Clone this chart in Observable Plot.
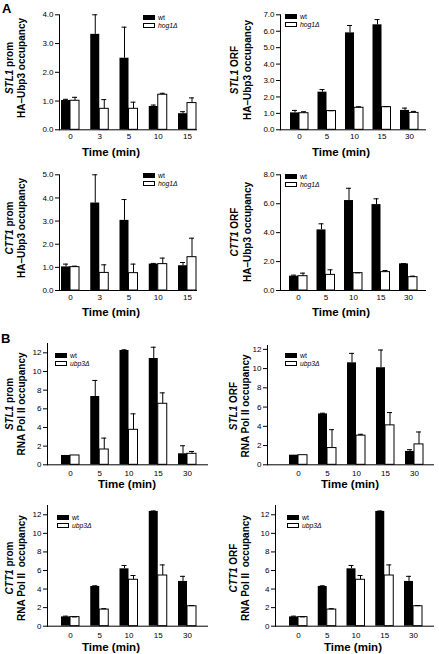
<!DOCTYPE html>
<html><head><meta charset="utf-8">
<script src="https://cdn.jsdelivr.net/npm/d3@7"></script>
<script src="https://cdn.jsdelivr.net/npm/@observablehq/plot@0.6"></script>
<style>
body{margin:0;background:#fff;}
#fig{position:relative;width:439px;height:654px;font-family:"Liberation Sans",Arial,sans-serif;color:#000;}
#fig svg{position:absolute;overflow:visible;}
.letter{position:absolute;font-weight:bold;font-size:13px;line-height:13px;}
</style></head><body><div id="fig"></div>
<script>
// ---- data ----
const timesA1 = ["0", "3", "5", "10", "15"];
const timesA2 = ["0", "5", "10", "15", "30"];
const timesB = ["0", "5", "10", "15", "30"];

// A: HA-Ubp3 occupancy (wt vs hog1Δ)
const stl1PromWt = [1.02, 3.32, 2.49, 0.81, 0.56];
const stl1PromWtErr = [0.04, 0.68, 1.08, 0.05, 0.07];
const stl1PromHog = [1.01, 0.73, 0.73, 1.22, 0.93];
const stl1PromHogErr = [0.12, 0.32, 0.23, 0.05, 0.18];

const stl1OrfWt = [1.03, 2.29, 5.90, 6.39, 1.18];
const stl1OrfWtErr = [0.15, 0.16, 0.45, 0.32, 0.14];
const stl1OrfHog = [1.01, 1.14, 1.34, 1.38, 1.03];
const stl1OrfHogErr = [0.09, 0.02, 0.06, 0.03, 0.09];

const ctt1PromWt = [1.02, 3.78, 3.03, 1.14, 1.07];
const ctt1PromWtErr = [0.12, 1.22, 0.90, 0.03, 0.14];
const ctt1PromHog = [1.01, 0.76, 0.75, 1.14, 1.44];
const ctt1PromHogErr = [0.04, 0.35, 0.39, 0.26, 0.82];

const ctt1OrfWt = [0.99, 4.19, 6.22, 5.94, 1.84];
const ctt1OrfWtErr = [0.07, 0.42, 0.85, 0.40, 0.02];
const ctt1OrfHog = [0.99, 1.08, 1.20, 1.27, 0.92];
const ctt1OrfHogErr = [0.21, 0.35, 0.02, 0.11, 0.07];

// B: RNA Pol II occupancy (wt vs ubp3Δ)
const polStl1PromWt = [1.0, 7.32, 12.25, 11.39, 1.18];
const polStl1PromWtErr = [0, 1.72, 0.07, 1.21, 0.86];
const polStl1PromUbp = [1.0, 1.64, 3.75, 6.54, 1.18];
const polStl1PromUbpErr = [0, 1.22, 1.71, 1.17, 0.25];

const polStl1OrfWt = [1.0, 5.29, 10.60, 10.09, 1.39];
const polStl1OrfWtErr = [0, 0.07, 0.98, 1.84, 0.18];
const polStl1OrfUbp = [1.0, 1.74, 3.03, 4.10, 2.12];
const polStl1OrfUbpErr = [0, 1.91, 0.14, 1.33, 1.29];

const polCtt1PromWt = [1.0, 4.28, 6.18, 12.36, 4.82];
const polCtt1PromWtErr = [0.08, 0.07, 0.36, 0.05, 0.55];
const polCtt1PromUbp = [0.98, 1.79, 5.00, 5.46, 2.15];
const polCtt1PromUbpErr = [0.02, 0.10, 0.46, 1.14, 0.07];

const polCtt1OrfWt = [1.0, 4.28, 6.18, 12.36, 4.82];
const polCtt1OrfWtErr = [0.08, 0.07, 0.36, 0.05, 0.55];
const polCtt1OrfUbp = [0.98, 1.79, 5.00, 5.46, 2.15];
const polCtt1OrfUbpErr = [0.02, 0.10, 0.46, 1.14, 0.07];

const ticksA1 = [0, 1, 2, 3, 4];
const ticksA2 = [0, 1, 2, 3, 4, 5, 6, 7];
const ticksA3 = [0, 1, 2, 3, 4, 5];
const ticksA4 = [0, 2, 4, 6, 8];
const ticksB = [0, 2, 4, 6, 8, 10, 12];

// ---- layout ----
const panels = [
  {box:[0,0,220,160], frame:[59,196,14.3,129.3], ymax:4, ticks:ticksA1, fmt:".1f", times:timesA1, c:[70,187],
   a:stl1PromWt, ae:stl1PromWtErr, b:stl1PromHog, be:stl1PromHogErr, gene:"STL1", region:" prom", line2:"HA\u2013Ubp3 occupancy",
   lab:[9,21,68], mut:"hog1\u0394", leg:[143,15], time:[111,152]},
  {box:[220,0,219,160], frame:[280,425,14.3,129.3], ymax:7, ticks:ticksA2, fmt:".1f", times:timesA2, c:[299,409],
   a:stl1OrfWt, ae:stl1OrfWtErr, b:stl1OrfHog, be:stl1OrfHogErr, gene:"STL1", region:" ORF", line2:"HA\u2013Ubp3 occupancy",
   lab:[234,247,70], mut:"hog1\u0394", leg:[285,14], time:[341,152]},
  {box:[0,160,220,160], frame:[59,196,174.3,290], ymax:5, ticks:ticksA3, fmt:".1f", times:timesA1, c:[70,187],
   a:ctt1PromWt, ae:ctt1PromWtErr, b:ctt1PromHog, be:ctt1PromHogErr, gene:"CTT1", region:" prom", line2:"HA\u2013Ubp3 occupancy",
   lab:[9,21,228], mut:"hog1\u0394", leg:[143,173], time:[111,312]},
  {box:[220,160,219,160], frame:[280,425,174.3,290], ymax:8, ticks:ticksA4, fmt:".1f", times:timesA2, c:[298,408],
   a:ctt1OrfWt, ae:ctt1OrfWtErr, b:ctt1OrfHog, be:ctt1OrfHogErr, gene:"CTT1", region:" ORF", line2:"HA\u2013Ubp3 occupancy",
   lab:[234,247,232], mut:"hog1\u0394", leg:[285,174], time:[341,312]},
  {box:[0,320,220,170], frame:[47,207,343,464.3], ymax:13, ticks:ticksB, fmt:"d", times:timesB, c:[70,187],
   a:polStl1PromWt, ae:polStl1PromWtErr, b:polStl1PromUbp, be:polStl1PromUbpErr, gene:"STL1", region:" prom", line2:"RNA Pol II occupancy",
   lab:[9,21,404], mut:"ubp3\u0394", leg:[55,353], time:[127,484]},
  {box:[220,320,219,170], frame:[267,433,345,464.3], ymax:12.4, ticks:ticksB, fmt:"d", times:timesB, c:[298,414],
   a:polStl1OrfWt, ae:polStl1OrfWtErr, b:polStl1OrfUbp, be:polStl1OrfUbpErr, gene:"STL1", region:" ORF", line2:"RNA Pol II occupancy",
   lab:[233,245,406], mut:"ubp3\u0394", leg:[285,353], time:[350,484]},
  {box:[0,490,220,164], frame:[47,207,505,625.7], ymax:13, ticks:ticksB, fmt:"d", times:timesB, c:[70,187],
   a:polCtt1PromWt, ae:polCtt1PromWtErr, b:polCtt1PromUbp, be:polCtt1PromUbpErr, gene:"CTT1", region:" prom", line2:"RNA Pol II  occupancy",
   lab:[9,21,568], mut:"ubp3\u0394", leg:[57,515], time:[111,647]},
  {box:[220,490,219,164], frame:[275,433,505,625.7], ymax:13, ticks:ticksB, fmt:"d", times:timesB, c:[298,413],
   a:polCtt1OrfWt, ae:polCtt1OrfWtErr, b:polCtt1OrfUbp, be:polCtt1OrfUbpErr, gene:"CTT1", region:" ORF", line2:"RNA Pol II  occupancy",
   lab:[233,245,568], mut:"ubp3\u0394", leg:[287,515], time:[353,647]}
];

const fig = document.getElementById("fig");
const barW = 9, capHalf = 2.5, legGap = 8;

for (const p of panels) {
  const [L, T, W, H] = p.box;
  const [fx0, fx1, fyT, fy0] = p.frame;
  const data = p.times.map((t, i) => ({t, a: p.a[i], ae: p.ae[i], b: p.b[i], be: p.be[i]}));
  const step = (p.c[1] - p.c[0]) / (p.times.length - 1);
  const half = step / 2;
  const chart = Plot.plot({
    width: W, height: H,
    marginLeft: fx0 - L, marginRight: L + W - fx1, marginTop: fyT - T, marginBottom: T + H - fy0,
    style: {fontFamily: "'Liberation Sans', Arial, sans-serif", fontSize: "8px", background: "transparent", color: "#000"},
    x: {type: "band", domain: p.times, range: [p.c[0] - half - L, p.c[1] + half - L], padding: 0, round: false},
    y: {domain: [0, p.ymax], range: [fy0 - T, fyT - T]},
    marks: [
      Plot.barY(data, {x: "t", y: "a", fill: "#000", insetLeft: half - barW, insetRight: half}),
      Plot.barY(data, {x: "t", y: "b", fill: "#fff", stroke: "#000", strokeWidth: 1, insetLeft: half, insetRight: half - barW}),
      Plot.ruleX(data.filter(d => d.ae > 0), {x: "t", y1: "a", y2: d => d.a + d.ae, dx: -barW / 2, stroke: "#000", strokeWidth: 1}),
      Plot.tickY(data.filter(d => d.ae > 0), {x: "t", y: d => d.a + d.ae, stroke: "#000", strokeWidth: 1,
        insetLeft: half - barW / 2 - capHalf, insetRight: half + barW / 2 - capHalf}),
      Plot.ruleX(data.filter(d => d.be > 0), {x: "t", y1: "b", y2: d => d.b + d.be, dx: barW / 2, stroke: "#000", strokeWidth: 1}),
      Plot.tickY(data.filter(d => d.be > 0), {x: "t", y: d => d.b + d.be, stroke: "#000", strokeWidth: 1,
        insetLeft: half + barW / 2 - capHalf, insetRight: half - barW / 2 - capHalf}),
      Plot.frame({anchor: "left", stroke: "#000"}),
      Plot.frame({anchor: "bottom", stroke: "#000"}),
      Plot.axisY({ticks: p.ticks, tickFormat: d3.format(p.fmt), tickSize: 4, tickPadding: 2, fontSize: 8, label: null}),
      Plot.axisX({tickSize: 0, tickPadding: p.fmt === "d" ? 6 : 4, fontSize: 8, label: null})
    ]
  });
  chart.style.left = L + "px";
  chart.style.top = T + "px";
  fig.appendChild(chart);
  const svg = d3.select(chart);
  // y label (two lines)
  const [lx1, lx2, lcy] = p.lab;
  const t1 = svg.append("text").attr("transform", `translate(${lx1 - L},${lcy - T}) rotate(-90)`)
    .attr("text-anchor", "middle").attr("dominant-baseline", "central")
    .style("font-size", "10px").style("font-weight", "bold");
  t1.append("tspan").style("font-style", "italic").text(p.gene);
  t1.append("tspan").text(p.region);
  svg.append("text").attr("transform", `translate(${lx2 - L},${lcy - T}) rotate(-90)`)
    .attr("text-anchor", "middle").attr("dominant-baseline", "central")
    .style("font-size", "10px").style("font-weight", "bold").style("white-space", "pre").text(p.line2);
  // time label
  svg.append("text").attr("x", p.time[0] - L).attr("y", p.time[1] - T)
    .attr("text-anchor", "middle").attr("dominant-baseline", "central")
    .style("font-size", "11.5px").style("font-weight", "bold").text("Time (min)");
  // legend
  const [gx, gy1] = p.leg;
  const gy2 = gy1 + legGap;
  svg.append("rect").attr("x", gx - L).attr("y", gy1 - T).attr("width", 12).attr("height", 5).attr("fill", "#000");
  svg.append("rect").attr("x", gx - L + 0.5).attr("y", gy2 - T + 0.5).attr("width", 11).attr("height", 4)
    .attr("fill", "#fff").attr("stroke", "#000");
  svg.append("text").attr("x", gx + 15 - L).attr("y", gy1 + 2.5 - T).attr("text-anchor", "start")
    .attr("dominant-baseline", "central").style("font-size", "6.8px").text("wt");
  svg.append("text").attr("x", gx + 15 - L).attr("y", gy2 + 2.5 - T).attr("text-anchor", "start")
    .attr("dominant-baseline", "central").style("font-size", "6.8px").style("font-style", "italic").text(p.mut);
}

// panel letters
for (const [txt, x, y] of [["A", 2, 2], ["B", 1, 332]]) {
  const d = document.createElement("div");
  d.className = "letter";
  d.textContent = txt;
  d.style.left = x + "px";
  d.style.top = y + "px";
  fig.appendChild(d);
}
</script></body></html>
